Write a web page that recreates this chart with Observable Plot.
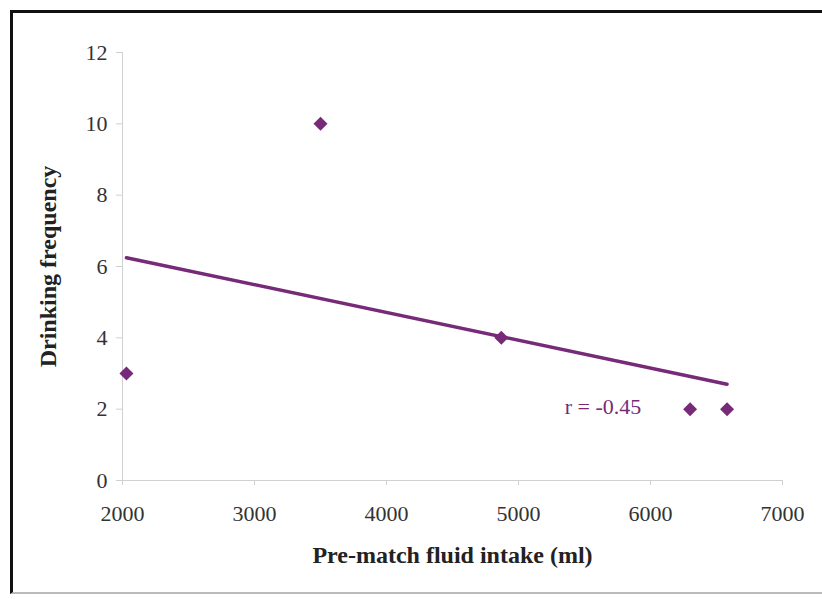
<!DOCTYPE html>
<html>
<head>
<meta charset="utf-8">
<script src="https://cdn.jsdelivr.net/npm/d3@7"></script>
<script src="https://cdn.jsdelivr.net/npm/@observablehq/plot@0.6"></script>
<style>
  html, body { margin: 0; padding: 0; background: #fff; }
  #wrap { position: relative; width: 822px; height: 599px; overflow: hidden; }
  #border { position: absolute; left: 10px; top: 10px; width: 820px; height: 584px;
    border-top: 3px solid #111; border-left: 3px solid #111; border-bottom: 2px solid #bbb;
    pointer-events: none; box-sizing: border-box; }
</style>
</head>
<body>
<div id="wrap"><div id="border"></div></div>
<script>
const intake = [2030, 3500, 4870, 6300, 6580];
const frequency = [3, 10, 4, 2, 2];
const xTicks = [2000, 3000, 4000, 5000, 6000, 7000];
const yTicks = [0, 2, 4, 6, 8, 10, 12];
const annotation = [{x: 5640, y: 2.05, label: "r = -0.45"}];

const data = intake.map((x, i) => ({x, y: frequency[i]}));
const purple = "#762a78";

const chart = Plot.plot({
  width: 822,
  height: 599,
  marginLeft: 122,
  marginRight: 40,
  marginTop: 52,
  marginBottom: 119,
  style: {fontFamily: "'Liberation Serif', 'Times New Roman', serif", background: "transparent"},
  x: {domain: [2000, 7000]},
  y: {domain: [0, 12]},
  marks: [
    Plot.ruleX([2000], {stroke: "#d0d0d0"}),
    Plot.ruleY([0], {stroke: "#d0d0d0"}),
    Plot.axisX({ticks: xTicks, tickFormat: "d", tickSize: 5, tickPadding: 20, stroke: "#d0d0d0", fill: "#333", fontSize: 22,
      label: "Pre-match fluid intake (ml)", labelArrow: "none", labelAnchor: "center", labelOffset: 82}),
    Plot.axisY({ticks: yTicks, tickSize: 6, tickPadding: 9, stroke: "#d0d0d0", fill: "#333", fontSize: 22,
      label: "Drinking frequency", labelArrow: "none", labelAnchor: "center", labelOffset: 84}),
    Plot.linearRegressionY(data, {x: "x", y: "y", ci: 0, stroke: purple, strokeWidth: 3.5}),
    Plot.dot(data, {x: "x", y: "y", symbol: "diamond2", r: 6.3, fill: purple, stroke: "none"}),
    Plot.text(annotation, {x: "x", y: "y", text: "label", fill: purple, fontSize: 22})
  ]
});
d3.select(chart).selectAll("[aria-label='x-axis label'] text, [aria-label='y-axis label'] text")
  .attr("font-weight", "bold").attr("font-size", 24).attr("fill", "#222")
  .text(function() { return this.textContent.replace(/\s*[→↑←↓]\s*/g, "").trim(); });
document.getElementById("wrap").prepend(chart);
</script>
</body>
</html>
